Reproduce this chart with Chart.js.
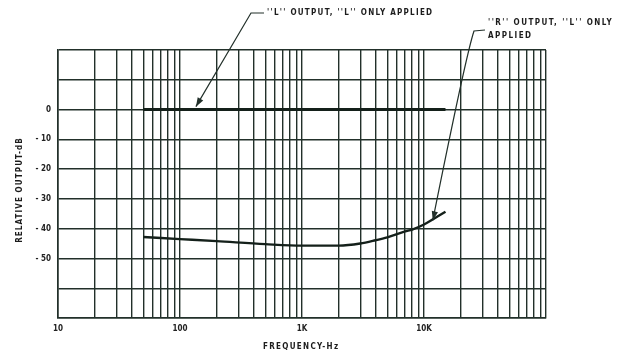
<!DOCTYPE html>
<html><head><meta charset="utf-8">
<script src="https://cdn.jsdelivr.net/npm/chart.js@4"></script>
<style>html,body{margin:0;padding:0;background:#fff}canvas{display:block}</style>
</head><body>
<canvas id="c" width="618" height="352"></canvas>
<script>
// ---- data ----
const lFreq = [50, 100, 200, 500, 1000, 2000, 5000, 10000, 15000];
const lValues = [0, 0, 0, 0, 0, 0, 0, 0, 0];
const rFreq = [50, 100, 200, 500, 1000, 2000, 3000, 4000, 5000, 7000, 8000, 10000, 15000];
const rValues = [-42.8, -43.5, -44.2, -45.2, -45.7, -45.7, -45.0, -43.9, -42.9, -40.9, -40.3, -38.6, -34.3];
const xTickLabels = {10: '10', 100: '100', 1000: '1K', 10000: '10K'};
const yTickLabels = {0: '0', '-10': '- 10', '-20': '- 20', '-30': '- 30', '-40': '- 40', '-50': '- 50'};
const xMin = 10, xMax = 100000, yMin = -70, yMax = 20;
const lLabel = "''L'' OUTPUT, ''L'' ONLY APPLIED";
const rLabel1 = "''R'' OUTPUT, ''L'' ONLY";
const rLabel2 = "APPLIED";
const xTitle = "FREQUENCY-Hz";
const yTitle = "RELATIVE OUTPUT-dB";
// annotation arrow targets (data space)
const lArrow = {f: 135, v: 0.3};
const rArrow = {f: 11800, v: -37.2};

const INK = '#22302a';

const toPts = (xs, ys) => xs.map((x, i) => ({x, y: ys[i]}));

const annot = {
  id: 'annot',
  afterDatasetsDraw(chart) {
    const {ctx, scales: {x, y}} = chart;
    ctx.save();
    ctx.strokeStyle = INK; ctx.fillStyle = INK; ctx.lineWidth = 1.2;
    function arrowHead(tx, ty, fx, fy) {
      const a = Math.atan2(ty - fy, tx - fx), L = 9, W = 3.2;
      ctx.beginPath();
      ctx.moveTo(tx, ty);
      ctx.lineTo(tx - L*Math.cos(a) + W*Math.sin(a), ty - L*Math.sin(a) - W*Math.cos(a));
      ctx.lineTo(tx - L*Math.cos(a) - W*Math.sin(a), ty - L*Math.sin(a) + W*Math.cos(a));
      ctx.closePath(); ctx.fill();
    }
    // L leader
    const ltx = x.getPixelForValue(lArrow.f), lty = y.getPixelForValue(lArrow.v) - 2;
    ctx.beginPath(); ctx.moveTo(264, 13); ctx.lineTo(251, 13); ctx.lineTo(ltx, lty); ctx.stroke();
    arrowHead(ltx, lty, 251, 13);
    // R leader
    const rtx = x.getPixelForValue(rArrow.f), rty = y.getPixelForValue(rArrow.v);
    ctx.beginPath(); ctx.moveTo(485, 30); ctx.lineTo(474, 31);
    ctx.quadraticCurveTo(466, 55, rtx, rty); ctx.stroke();
    arrowHead(rtx, rty, 445, 170);
    // texts
    ctx.font = 'bold 8px "DejaVu Sans Condensed", "DejaVu Sans", sans-serif';
    ctx.textBaseline = 'middle'; ctx.textAlign = 'left';
    try { ctx.letterSpacing = '1.25px'; } catch(e) {}
    ctx.fillStyle = '#1c1c1c';
    ctx.fillText(lLabel, 267, 13);
    try { ctx.letterSpacing = '1.45px'; } catch(e) {}
    ctx.fillText(rLabel1, 488, 23);
    ctx.fillText(rLabel2, 488, 36);
    try { ctx.letterSpacing = '1.3px'; } catch(e) {}
    ctx.fillText(xTitle, 263, 347);
    try { ctx.letterSpacing = '1.1px'; } catch(e) {}
    ctx.translate(20, 190); ctx.rotate(-Math.PI/2); ctx.textAlign = 'center';
    ctx.fillText(yTitle, 0, 0);
    ctx.restore();
  }
};

new Chart(document.getElementById('c'), {
  type: 'line',
  data: {
    datasets: [
      {data: toPts(lFreq, lValues), borderColor: '#14201a', borderWidth: 3, pointRadius: 0, tension: 0, fill: false},
      {data: toPts(rFreq, rValues), borderColor: '#14201a', borderWidth: 2.4, pointRadius: 0, cubicInterpolationMode: 'monotone', fill: false}
    ]
  },
  options: {
    responsive: false, animation: false, devicePixelRatio: 1,
    layout: {padding: {left: 0, right: 72, top: 50, bottom: 0}},
    plugins: {legend: {display: false}, tooltip: {enabled: false}},
    scales: {
      x: {
        type: 'logarithmic', min: xMin, max: xMax,
        afterBuildTicks(s) {
          const t = [];
          for (let d = xMin; d < xMax; d *= 10) for (let m = 1; m < 10; m++) t.push({value: d*m});
          t.push({value: xMax});
          s.ticks = t;
        },
        afterFit(s) { s.height = 34; },
        grid: {color: INK, lineWidth: 1.4, drawTicks: false},
        border: {color: INK, width: 1.6},
        ticks: {autoSkip: false, maxRotation: 0, padding: 6, color: '#222',
          font: {family: '"DejaVu Sans Condensed", "DejaVu Sans", sans-serif', size: 8, weight: 'bold'},
          callback: (v) => xTickLabels[v] || ''}
      },
      y: {
        min: yMin, max: yMax,
        afterFit(s) { s.width = 58; },
        grid: {color: INK, lineWidth: 1.4, drawTicks: false},
        border: {color: INK, width: 1.6},
        ticks: {stepSize: 10, padding: 7, color: '#222',
          font: {family: '"DejaVu Sans Condensed", "DejaVu Sans", sans-serif', size: 8, weight: 'bold'},
          callback: (v) => yTickLabels[v] || ''}
      }
    }
  },
  plugins: [annot]
});
</script>
</body></html>
